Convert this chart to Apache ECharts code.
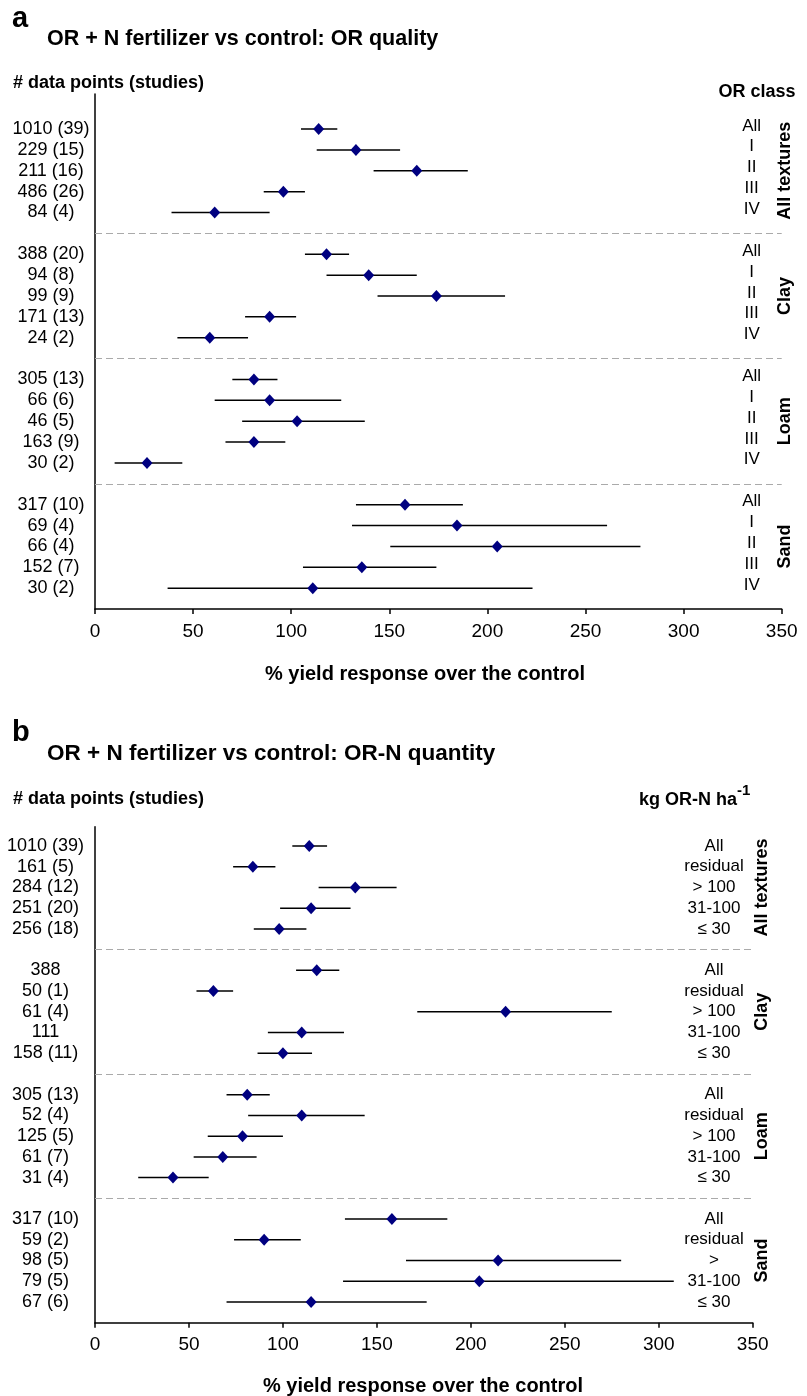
<!DOCTYPE html>
<html><head><meta charset="utf-8">
<script src="https://cdn.jsdelivr.net/npm/echarts@6/dist/echarts.min.js"></script>
<style>html,body{margin:0;padding:0;background:#fff}#c{width:807px;height:1396px}</style>
</head><body><div id="c"></div>
<script>
// ---------- data ----------
const groups = ['All textures', 'Clay', 'Loam', 'Sand'];
const xMin = 0, xMax = 350, xStep = 50;

// Panel a: OR quality
const aCounts = ['1010 (39)', '229 (15)', '211 (16)', '486 (26)', '84 (4)',
  '388 (20)', '94 (8)', '99 (9)', '171 (13)', '24 (2)',
  '305 (13)', '66 (6)', '46 (5)', '163 (9)', '30 (2)',
  '317 (10)', '69 (4)', '66 (4)', '152 (7)', '30 (2)'];
const aClasses = ['All', 'I', 'II', 'III', 'IV',
  'All', 'I', 'II', 'III', 'IV',
  'All', 'I', 'II', 'III', 'IV',
  'All', 'I', 'II', 'III', 'IV'];
const aMean = [114, 133, 164, 96, 61, 118, 139.5, 174, 89, 58.5, 81, 89, 103, 81, 26.5, 158, 184.5, 205, 136, 111];
const aLow  = [105, 113, 142, 86, 39, 107, 118, 144, 76.5, 42, 70, 61, 75, 66.5, 10, 133, 131, 150.5, 106, 37];
const aHigh = [123.5, 155.5, 190, 107, 89, 129.5, 164, 209, 102.5, 78, 93, 125.5, 137.5, 97, 44.5, 187.5, 261, 278, 174, 223];

// Panel b: OR-N quantity
const bCounts = ['1010 (39)', '161 (5)', '284 (12)', '251 (20)', '256 (18)',
  '388', '50 (1)', '61 (4)', '111', '158 (11)',
  '305 (13)', '52 (4)', '125 (5)', '61 (7)', '31 (4)',
  '317 (10)', '59 (2)', '98 (5)', '79 (5)', '67 (6)'];
const bClasses = ['All', 'residual', '> 100', '31-100', '\u2264 30',
  'All', 'residual', '> 100', '31-100', '\u2264 30',
  'All', 'residual', '> 100', '31-100', '\u2264 30',
  'All', 'residual', '>', '31-100', '\u2264 30'];
const bMean = [114, 84, 138.5, 115, 98, 118, 63, 218.5, 110, 100, 81, 110, 78.5, 68, 41.5, 158, 90, 214.5, 204.5, 115];
const bLow  = [105, 73.5, 119, 98.5, 84.5, 107, 54, 171.5, 92, 86.5, 70, 81.5, 60, 52.5, 23, 133, 74, 165.5, 132, 70];
const bHigh = [123.5, 96, 160.5, 136, 112.5, 130, 73.5, 275, 132.5, 115.5, 93, 143.5, 100, 86, 60.5, 187.5, 109.5, 280, 308, 176.5];

// ---------- layout helpers ----------
const FONT = "'Liberation Sans', Arial, Helvetica, sans-serif";
const rowsPerGroup = 5;
const slotOf = i => Math.floor(i / rowsPerGroup) * (rowsPerGroup + 1) + (i % rowsPerGroup);
const slots = aCounts.map((_, i) => slotOf(i));
const groupCenters = groups.map((_, g) => g * (rowsPerGroup + 1) + 2);
const separators = groups.slice(1).map((_, g) => (g + 1) * (rowsPerGroup + 1) - 1);
const lastSlot = slotOf(aCounts.length - 1) + 1;

const chart = echarts.init(document.getElementById('c'), null, {renderer: 'canvas'});

function panel(p) {
  const gi = p.grid;
  const yBase = gi * 3;
  const xAxis = {
    gridIndex: gi, type: 'value', min: xMin, max: xMax, interval: xStep,
    axisLine: {show: true, onZero: false, lineStyle: {color: '#000', width: 1.5}},
    axisTick: {show: true, length: 5, lineStyle: {color: '#000', width: 1.5}},
    axisLabel: {color: '#000', fontSize: 19, fontFamily: FONT, margin: 13},
    splitLine: {show: false}
  };
  const yCommon = {gridIndex: gi, type: 'value', min: p.yMin, max: lastSlot, inverse: true,
    splitLine: {show: false}, axisTick: {show: false}};
  const yAxes = [
    Object.assign({}, yCommon, {
      position: 'left',
      axisLine: {show: true, onZero: false, lineStyle: {color: '#000', width: 1.5}},
      axisLabel: {show: true, customValues: slots, align: 'center', verticalAlign: 'middle',
        margin: p.countMargin, color: '#000', fontSize: 18, fontFamily: FONT,
        formatter: v => p.counts[slots.indexOf(Math.round(v))]}
    }),
    Object.assign({}, yCommon, {
      position: 'right', offset: p.classOffset,
      axisLine: {show: false, onZero: false},
      axisLabel: {show: true, customValues: slots.map(s => s + p.classShift), align: 'center', verticalAlign: 'middle',
        margin: 0, color: '#000', fontSize: 17, fontFamily: FONT,
        formatter: v => p.classes[slots.indexOf(Math.round(v - p.classShift))]}
    }),
    Object.assign({}, yCommon, {
      position: 'right', offset: 0,
      axisLine: {show: false, onZero: false},
      axisLabel: {show: true, customValues: groupCenters, rotate: 90, align: 'center', verticalAlign: 'middle',
        margin: p.groupMargin, color: '#000', fontSize: 18, fontWeight: 'bold', fontFamily: FONT,
        formatter: v => groups[groupCenters.indexOf(Math.round(v))]}
    })
  ];
  const series = [
    {
      type: 'custom', xAxisIndex: gi, yAxisIndex: yBase, silent: true, clip: false,
      data: p.low.map((l, i) => [l, p.high[i], slots[i]]),
      encode: {x: [0, 1], y: 2},
      renderItem: (params, api) => {
        const y = api.value(2);
        const a = api.coord([api.value(0), y]);
        const b = api.coord([api.value(1), y]);
        return {type: 'line', shape: {x1: a[0], y1: a[1], x2: b[0], y2: b[1]},
          style: {stroke: '#000', lineWidth: 1.5}};
      },
      z: 2
    },
    {
      type: 'scatter', xAxisIndex: gi, yAxisIndex: yBase, silent: true,
      symbol: 'diamond', symbolSize: [11, 12],
      itemStyle: {color: '#000080', opacity: 1},
      data: p.mean.map((m, i) => [m, slots[i]]),
      z: 3,
      markLine: {
        silent: true, symbol: ['none', 'none'], label: {show: false},
        lineStyle: {type: [7, 4], color: '#aaaaaa', width: 1.2},
        data: separators.map(s => ({yAxis: s}))
      }
    }
  ];
  return {xAxis, yAxes, series};
}

const pa = panel({grid: 0, yMin: -1.68, counts: aCounts, classes: aClasses, mean: aMean, low: aLow, high: aHigh,
  countMargin: 44, classOffset: -30, classShift: -0.15, groupMargin: 3});
const pb = panel({grid: 1, yMin: -0.93, counts: bCounts, classes: bClasses, mean: bMean, low: bLow, high: bHigh,
  countMargin: 49.5, classOffset: -38.7, classShift: 0, groupMargin: 9});

const txt = (x, y, text, size, bold, align) => ({
  type: 'text', x: x, y: y, silent: true,
  style: {text: text, fill: '#000', font: (bold ? 'bold ' : '') + size + 'px ' + FONT,
    textAlign: align || 'left', textVerticalAlign: 'middle'}
});

chart.setOption({
  animation: false,
  backgroundColor: '#fff',
  grid: [
    {left: 95, right: 25.3, top: 94, height: 515},
    {left: 95, right: 54.3, top: 826.7, height: 496}
  ],
  xAxis: [pa.xAxis, pb.xAxis],
  yAxis: pa.yAxes.concat(pb.yAxes),
  series: pa.series.concat(pb.series),
  graphic: [
    txt(12, 18.5, 'a', 29, true),
    txt(47, 39.5, 'OR + N fertilizer vs control: OR quality', 21.5, true),
    txt(13, 83.5, '# data points (studies)', 18, true),
    txt(757, 92, 'OR class', 18, true, 'center'),
    txt(425, 674, '% yield response over the control', 20, true, 'center'),
    txt(12, 733, 'b', 29, true),
    txt(47, 754, 'OR + N fertilizer vs control: OR-N quantity', 22.5, true),
    txt(13, 799, '# data points (studies)', 18, true),
    txt(639, 800.5, 'kg OR-N ha', 18, true),
    txt(737, 791, '-1', 15, true),
    txt(423, 1386, '% yield response over the control', 20, true, 'center')
  ]
});
</script></body></html>
